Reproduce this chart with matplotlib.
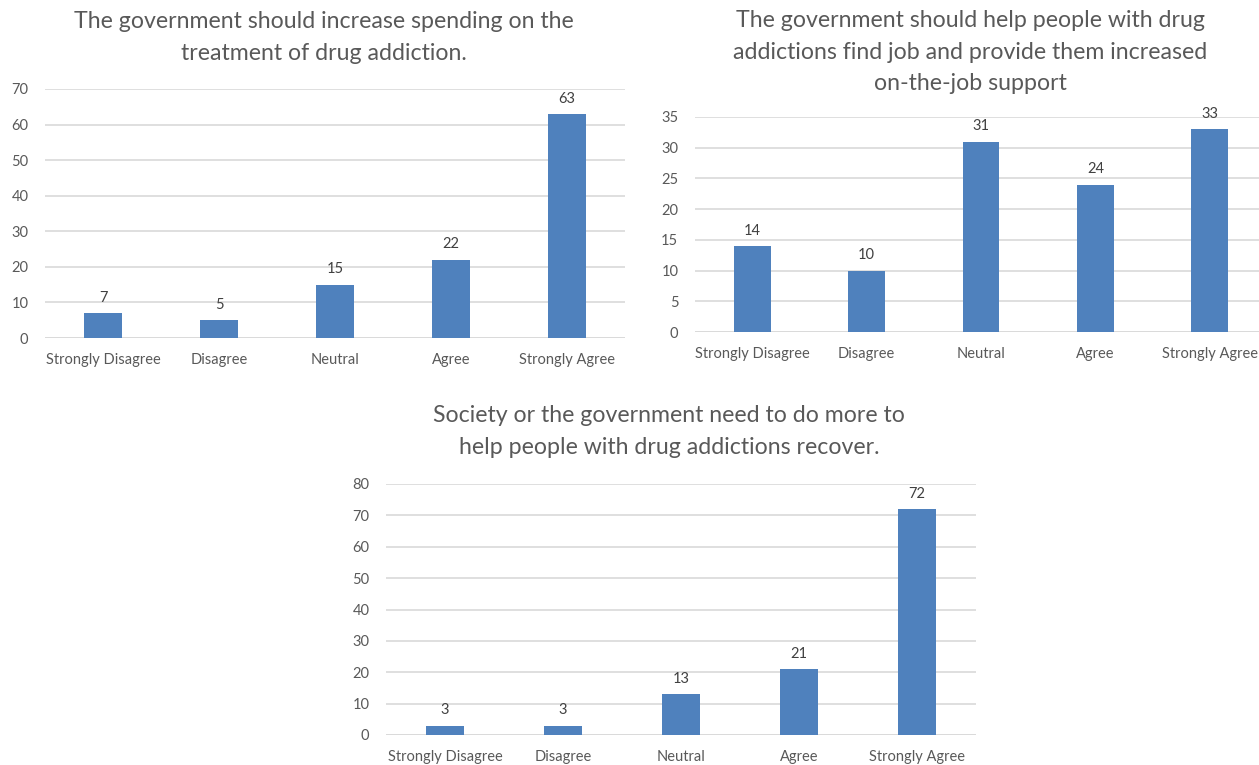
import matplotlib.pyplot as plt
import numpy as np

plt.rcParams["font.family"] = ["Lato", "DejaVu Sans"]

categories = ["Strongly Disagree", "Disagree", "Neutral", "Agree", "Strongly Agree"]

title_spending = "The government should increase spending on the\ntreatment of drug addiction."
values_spending = [7, 5, 15, 22, 63]

title_jobs = ("The government should help people with drug\n"
              "addictions find job and provide them increased\non-the-job support")
values_jobs = [14, 10, 31, 24, 33]

title_recover = "Society or the government need to do more to\nhelp people with drug addictions recover."
values_recover = [3, 3, 13, 21, 72]

W, H = 1259, 765
BAR = "#4f81bd"
GRID = "#d9d9d9"
TEXT = "#595959"


def add_chart(fig, box, values, ymax, ystep, title, title_xy):
    # box = (left, right, y of zero, y of ymax) in pixels from top-left
    left, right, y0, y1 = box
    ax = fig.add_axes([left / W, 1 - y0 / H, (right - left) / W, (y0 - y1) / H])
    x = np.arange(len(categories))
    bars = ax.bar(x, values, width=0.32, color=BAR, zorder=3)
    for b, v in zip(bars, values):
        ax.annotate(str(v), (b.get_x() + b.get_width() / 2, v), xytext=(0, 6),
                    textcoords="offset points", ha="center", va="bottom",
                    fontsize=10.5, color="#404040")
    ax.set_xlim(-0.5, len(categories) - 0.5)
    ax.set_ylim(0, ymax)
    ax.set_yticks(np.arange(0, ymax + 1, ystep))
    ax.set_xticks(x)
    ax.set_xticklabels(categories)
    ax.grid(axis="y", color=GRID, linewidth=1.2, zorder=0)
    for s in ax.spines.values():
        s.set_visible(False)
    ax.axhline(0, color=GRID, linewidth=1.2, zorder=1)
    ax.tick_params(length=0, labelsize=10.5, colors=TEXT, pad=11)
    ax.tick_params(axis="y", pad=12)
    tx, ty = title_xy
    fig.text(tx / W, 1 - ty / H, title, ha="center", va="top",
             fontsize=16.7, color=TEXT, linespacing=1.62)
    return ax


fig = plt.figure(figsize=(W / 100, H / 100), dpi=100)
add_chart(fig, (45, 625, 338, 89), values_spending, 70, 10, title_spending, (324, 11))
add_chart(fig, (695, 1267, 332, 117), values_jobs, 35, 5, title_jobs, (970, 10))
add_chart(fig, (386, 976, 735, 484), values_recover, 80, 10, title_recover, (669, 405))

fig.savefig("out.png", dpi=100)
